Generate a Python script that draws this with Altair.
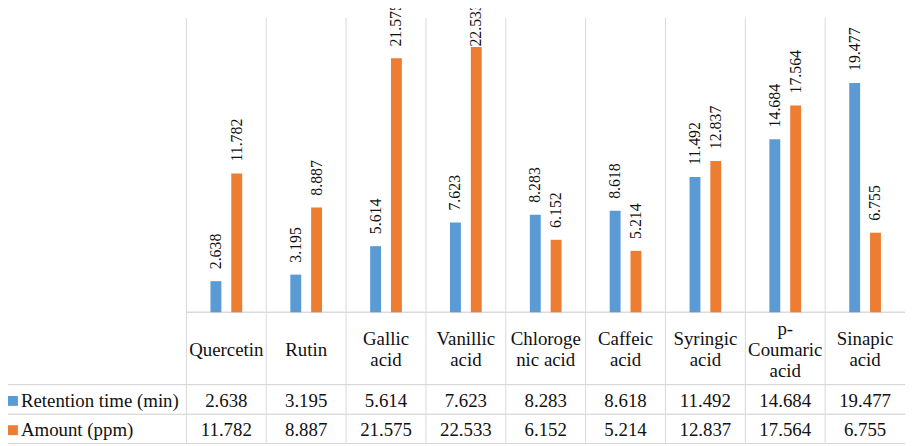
import altair as alt
import pandas as pd

categories = ["Quercetin", "Rutin", "Gallic acid", "Vanillic acid", "Chlorogenic acid",
              "Caffeic acid", "Syringic acid", "p-Coumaric acid", "Sinapic acid"]
header_labels = ["Quercetin", "Rutin", "Gallic\nacid", "Vanillic\nacid", "Chloroge\nnic acid",
                 "Caffeic\nacid", "Syringic\nacid", "p-\nCoumaric\nacid", "Sinapic\nacid"]
series = ["Retention time (min)", "Amount (ppm)"]
retention = [2.638, 3.195, 5.614, 7.623, 8.283, 8.618, 11.492, 14.684, 19.477]
amount = [11.782, 8.887, 21.575, 22.533, 6.152, 5.214, 12.837, 17.564, 6.755]
colors = ["#5B9BD5", "#ED7D31"]

rows = []
for i, c in enumerate(categories):
    rows.append({"category": c, "series": series[0], "value": retention[i]})
    rows.append({"category": c, "series": series[1], "value": amount[i]})
df = pd.DataFrame(rows)
cat_df = pd.DataFrame({"category": categories, "header": header_labels})
ser_df = pd.DataFrame({"series": series})

FONT = "Liberation Serif"
GRID = "#d9d9d9"
TXT = "#111111"
W, H = 725, 297
YMAX = 25
LH = 21

x_enc = alt.X("category:N", sort=categories, axis=None,
              scale=alt.Scale(paddingInner=0, paddingOuter=0))
xoff = alt.XOffset("series:N", sort=series,
                   scale=alt.Scale(domain=series, paddingInner=0, paddingOuter=0.918))
color = alt.Color("series:N", scale=alt.Scale(domain=series, range=colors), legend=None)
row_y = alt.Y("series:N", axis=None,
              scale=alt.Scale(type="point", domain=series, range=[386.5, 416], padding=0))
val_y = alt.Y("value:Q", axis=None, scale=alt.Scale(domain=[0, YMAX], nice=False))

vrules = alt.Chart(cat_df).mark_rule(color=GRID, strokeWidth=1).encode(
    x=alt.X("category:N", sort=categories, axis=None, bandPosition=0,
            scale=alt.Scale(paddingInner=0, paddingOuter=0)),
    y=alt.value(0), y2=alt.value(429.5))

def hline(yv, x0):
    return alt.Chart(ser_df).mark_rule(color=GRID, strokeWidth=1).encode(
        x=alt.value(x0), x2=alt.value(W), y=alt.value(yv))

bars = alt.Chart(df).mark_bar(width=11).encode(
    x=x_enc, xOffset=xoff, y=val_y, color=color)

# like the spreadsheet, labels near the top are pushed down to stay inside the chart area
labels = alt.Chart(df).mark_text(
    angle=270, align="left", baseline="middle",
    dx=alt.expr(f"min(12, {H} * (1 - datum.value / {YMAX}) - 29)"),
    font=FONT, fontSize=16, color=TXT).encode(
    x=x_enc, xOffset=xoff, y=val_y,
    text=alt.Text("value:Q", format=".3f"))

# multi-line header cells, centred vertically in the header row
header = alt.Chart(cat_df).mark_text(
    font=FONT, fontSize=19, lineHeight=LH, lineBreak="\n",
    dy=alt.expr(f"-(length(split(datum.header, '\\n')) - 1) * {LH / 2}"),
    baseline="middle", align="center", color=TXT).encode(
    x=x_enc, y=alt.value(335), text="header:N")

cells = alt.Chart(df).mark_text(font=FONT, fontSize=19, baseline="middle",
                                align="center", color=TXT).encode(
    x=x_enc, y=row_y, text=alt.Text("value:Q", format=".3f"))

row_names = alt.Chart(ser_df).mark_text(font=FONT, fontSize=19, baseline="middle",
                                        align="left", color=TXT).encode(
    x=alt.value(-167), y=row_y, text="series:N")

squares = alt.Chart(ser_df).mark_square(size=100, opacity=1).encode(
    x=alt.value(-175), y=row_y, color=color)

chart = alt.layer(
    vrules, hline(297, 0), hline(370, -180), hline(400, -180), hline(429.5, -180),
    bars, labels, header, cells, row_names, squares
).resolve_scale(y="independent").properties(
    width=W, height=H,
    autosize=alt.AutoSizeParams(type="none"),
    padding={"left": 180, "top": 8, "right": 0, "bottom": 133},
).configure_view(stroke=None)

chart.save("out.html", embed_options={"renderer": "svg", "actions": False})
